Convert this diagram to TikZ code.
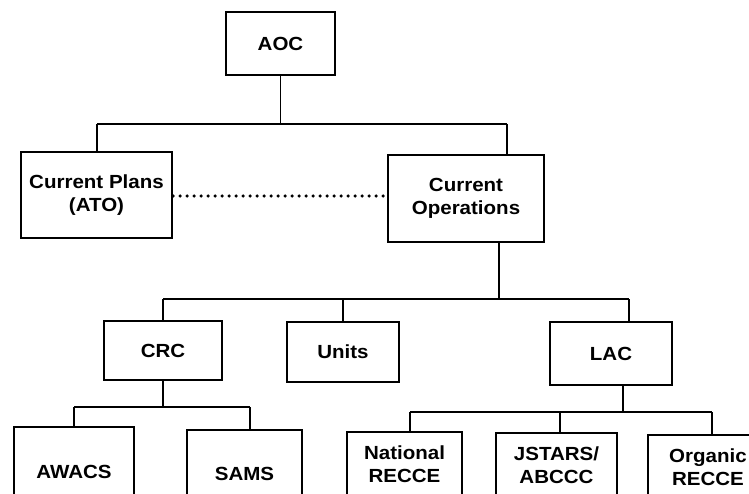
\documentclass[tikz,border=0pt]{standalone}
\usepackage{fontspec}
\setmainfont{Liberation Sans}[FakeStretch=1.08]
\begin{document}
\begin{tikzpicture}[x=1pt,y=-1pt,
  box/.style={draw, line width=2.2pt, inner sep=0pt, align=center,
    font=\fontsize{19}{22.5}\selectfont\bfseries},
  conn/.style={line width=1.6pt},
  bar/.style={line width=2pt},
  dotline/.style={line width=3.6pt, line cap=round, dash pattern=on 0pt off 7pt}]
\useasboundingbox (0,0) rectangle (749,494);
\clip (0,0) rectangle (749,494);
% nodes
\node[box, minimum width=109pt, minimum height=63pt] (aoc) at (280.5,43.5) {AOC};
\node[box, minimum width=151pt, minimum height=86pt] (cp) at (96.5,195) {Current Plans\\(ATO)};
\node[box, minimum width=156pt, minimum height=87pt] (cop) at (466,198.5) {Current\\Operations};
\node[box, minimum width=118pt, minimum height=59pt] (crc) at (163,350.5) {CRC};
\node[box, minimum width=112pt, minimum height=60pt] (units) at (343,352) {Units};
\node[box, minimum width=122pt, minimum height=63pt] (lac) at (611,353.5) {LAC};
\node[box, minimum width=120pt, minimum height=90pt] (awacs) at (74,472) {AWACS};
\node[box, minimum width=115pt, minimum height=88pt] (sams) at (244.5,474) {SAMS};
\node[box, minimum width=115pt, minimum height=64pt] (nat) at (404.5,464) {National\\RECCE};
\node[box, minimum width=121pt, minimum height=64pt] (js) at (556.5,465) {JSTARS/\\ABCCC};
\node[box, minimum width=120pt, minimum height=64pt] (org) at (708,467) {Organic\\RECCE};
% level 1
\coordinate (b1l) at (97,124);
\coordinate (b1r) at (507,124);
\draw[bar] (b1l) -- (b1r);
\draw[conn] (aoc.south) -- (aoc.south |- b1l);
\draw[conn] (b1l) -- (b1l |- cp.north);
\draw[conn] (b1r) -- (b1r |- cop.north);
\coordinate (dl) at (175,196);
\draw[dotline] (dl -| cp.east) -- (dl -| cop.west);
% level 2
\coordinate (b2l) at (163,299);
\coordinate (b2r) at (629,299);
\coordinate (s2) at (499,299);
\draw[bar] (b2l) -- (b2r);
\draw[conn] (s2 |- cop.south) -- (s2);
\draw[conn] (b2l) -- (b2l |- crc.north);
\draw[conn] (units.north) -- (units.north |- b2l);
\draw[conn] (b2r) -- (b2r |- lac.north);
% level 3 (CRC)
\coordinate (b3l) at (74,407);
\coordinate (b3r) at (250,407);
\draw[bar] (b3l) -- (b3r);
\draw[conn] (crc.south) -- (crc.south |- b3l);
\draw[conn] (b3l) -- (b3l |- awacs.north);
\draw[conn] (b3r) -- (b3r |- sams.north);
% level 3 (LAC)
\coordinate (b4l) at (410,412);
\coordinate (b4m) at (560,412);
\coordinate (b4r) at (712,412);
\coordinate (s4) at (623,412);
\draw[bar] (b4l) -- (b4r);
\draw[conn] (s4 |- lac.south) -- (s4);
\draw[conn] (b4l) -- (b4l |- nat.north);
\draw[conn] (b4m) -- (b4m |- js.north);
\draw[conn] (b4r) -- (b4r |- org.north);
\end{tikzpicture}
\end{document}
